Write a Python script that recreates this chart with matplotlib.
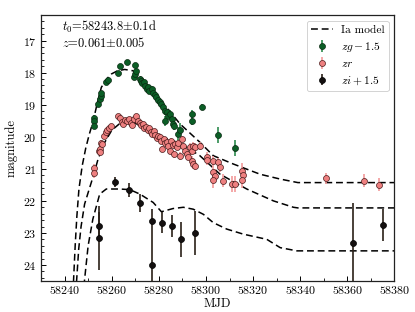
import matplotlib
matplotlib.use("Agg")
import matplotlib.pyplot as plt
import numpy as np

plt.rcParams['font.family'] = ['cmr10', 'DejaVu Serif']
plt.rcParams['mathtext.fontset'] = 'cm'
plt.rcParams['axes.unicode_minus'] = False
plt.rcParams['axes.formatter.use_mathtext'] = True

# ---- model curves (Ia model) ----
g_model_mjd = [58243.5, 58243.8, 58244.5, 58245.2, 58246.1, 58247.5, 58249.0, 58250.5, 58252.0,
               58253.8, 58255.6, 58257.8, 58259.9, 58262.5, 58265.5, 58269.0, 58273.3, 58279.0,
               58284.0, 58289.0, 58297.4, 58303.1, 58311.6, 58323.0, 58331.5, 58339.0, 58380.0]
g_model_mag = [25.2, 24.5, 23.4, 22.5, 21.63, 20.9, 20.35, 19.92, 19.55,
               18.98, 18.46, 18.2, 18.04, 17.94, 17.9, 17.94, 18.2, 18.75,
               19.15, 19.6, 20.17, 20.59, 20.85, 21.17, 21.32, 21.43, 21.43]

r_model_mjd = [58244.8, 58245.1, 58246.0, 58247.0, 58248.5, 58250.6, 58252.3, 58254.2, 58257.0,
               58260.0, 58264.0, 58266.5, 58270.0, 58276.0, 58283.0, 58289.0, 58297.4, 58306.0,
               58317.3, 58328.6, 58337.1, 58339.0, 58380.0]
r_model_mag = [25.2, 24.5, 23.5, 22.8, 22.1, 21.6, 21.2, 20.7, 20.18,
               19.8, 19.55, 19.5, 19.57, 19.85, 20.05, 20.2, 20.59, 21.17,
               21.63, 22.0, 22.2, 22.22, 22.22]

i_model_mjd = [58247.8, 58248.5, 58250.0, 58252.0, 58254.9, 58257.7, 58263.4, 58267.7, 58272.0,
               58277.6, 58281.1, 58286.0, 58290.4, 58294.6, 58298.9, 58303.1, 58308.8, 58315.9,
               58325.8, 58331.5, 58338.6, 58380.0]
i_model_mag = [25.0, 24.45, 23.4, 22.57, 21.79, 21.63, 21.63, 21.65, 21.79,
               22.05, 22.34, 22.24, 22.2, 22.26, 22.42, 22.68, 22.88, 23.04,
               23.2, 23.46, 23.56, 23.56]

# ---- zg - 1.5 ----
g_mjd = [58252.3, 58252.3, 58252.3, 58254.2, 58254.9, 58255.3, 58255.6, 58257.7, 58258.4,
         58262.5, 58263.4, 58266.3, 58269.7, 58269.4, 58270.0, 58270.5,
         58271.9, 58272.5, 58273.0, 58273.6, 58274.2, 58274.8, 58275.4, 58276.0, 58276.9,
         58277.5, 58278.2, 58279.0, 58279.7, 58280.4, 58281.1, 58281.8, 58282.6, 58283.3,
         58284.0, 58284.7, 58285.4, 58286.0, 58286.4, 58282.6, 58288.0, 58289.0,
         58294.2, 58294.2, 58298.2, 58305.2, 58312.3]
g_mag = [19.40, 19.52, 19.65, 18.98, 18.82, 18.72, 18.64, 18.30, 18.23,
         18.02, 17.78, 17.68, 17.76, 18.12, 18.04, 17.95,
         18.20, 18.25, 18.32, 18.30, 18.42, 18.50, 18.45, 18.56, 18.52,
         18.62, 18.70, 18.77, 18.85, 18.90, 18.98, 19.08, 19.20, 19.24,
         19.34, 19.30, 19.45, 19.60, 19.65, 19.50, 19.90, 19.78,
         19.29, 19.50, 19.08, 19.95, 20.35]
g_err = [0.08, 0.08, 0.08, 0.08, 0.08, 0.07, 0.07, 0.06, 0.06,
         0.06, 0.05, 0.05, 0.05, 0.06, 0.06, 0.05,
         0.07, 0.07, 0.08, 0.08, 0.08, 0.08, 0.08, 0.08, 0.09,
         0.09, 0.1, 0.1, 0.1, 0.1, 0.1, 0.12, 0.12, 0.12,
         0.12, 0.13, 0.13, 0.14, 0.15, 0.15, 0.2, 0.2,
         0.12, 0.12, 0.1, 0.25, 0.25]

# ---- zr ----
r_mjd = [58252.3, 58252.3, 58254.5, 58254.9, 58255.1, 58255.6, 58256.0, 58256.8, 58257.5,
         58258.0, 58258.8, 58259.6, 58262.5, 58263.5, 58264.2, 58265.0, 58265.5, 58266.6,
         58267.5, 58268.2, 58268.8, 58269.6, 58270.5, 58271.2, 58271.8, 58272.5, 58273.2,
         58273.8, 58274.5, 58275.2, 58275.8, 58276.5, 58277.2, 58277.8, 58278.5, 58279.2,
         58279.8, 58280.5, 58281.0, 58281.5, 58282.2, 58282.8, 58283.5, 58284.0, 58284.6,
         58285.2, 58285.8, 58286.5, 58287.0, 58287.6, 58288.2, 58288.8, 58289.7, 58290.4,
         58291.0, 58291.8, 58292.5, 58293.2, 58294.0, 58294.6, 58295.3, 58294.0, 58294.6,
         58295.3, 58297.4, 58300.3, 58300.5, 58303.1, 58305.3, 58306.0, 58303.1, 58303.8,
         58303.1, 58307.4, 58310.9, 58312.3, 58315.2, 58315.9, 58315.2, 58351.0, 58367.0,
         58373.3]
r_mag = [20.96, 21.14, 20.44, 20.38, 20.47, 20.18, 20.23, 19.97, 19.86,
         19.78, 19.72, 19.66, 19.36, 19.40, 19.55, 19.60, 19.48, 19.52,
         19.46, 19.56, 19.62, 19.44, 19.34, 19.50, 19.58, 19.64, 19.60,
         19.72, 19.70, 19.78, 19.74, 19.85, 19.90, 19.82, 19.95, 20.05,
         19.98, 20.02, 20.12, 20.38, 20.08, 20.20, 20.15, 20.30, 20.45,
         20.12, 20.25, 20.55, 20.22, 20.32, 20.18, 20.60, 20.07, 20.28,
         20.44, 20.54, 20.62, 20.33, 20.44, 20.28, 20.33, 20.75, 20.85,
         20.90, 20.28, 20.64, 20.73, 20.75, 20.80, 20.94, 21.11, 21.22,
         21.35, 21.37, 21.46, 21.46, 21.06, 21.20, 21.34, 21.30, 21.37,
         21.50]
r_err = [0.12, 0.15, 0.1, 0.1, 0.1, 0.08, 0.08, 0.08, 0.08,
         0.07, 0.07, 0.07, 0.06, 0.06, 0.06, 0.06, 0.06, 0.06,
         0.06, 0.06, 0.06, 0.06, 0.06, 0.06, 0.06, 0.06, 0.06,
         0.06, 0.07, 0.07, 0.07, 0.07, 0.07, 0.07, 0.08, 0.08,
         0.08, 0.08, 0.08, 0.1, 0.08, 0.08, 0.08, 0.1, 0.1,
         0.08, 0.1, 0.12, 0.1, 0.1, 0.1, 0.12, 0.1, 0.1,
         0.12, 0.12, 0.12, 0.12, 0.12, 0.12, 0.12, 0.15, 0.15,
         0.15, 0.12, 0.15, 0.15, 0.15, 0.15, 0.15, 0.2, 0.2,
         0.25, 0.2, 0.25, 0.25, 0.25, 0.2, 0.25, 0.18, 0.2,
         0.2]

# ---- zi + 1.5 ----
i_mjd = [58254.6, 58254.6, 58261.3, 58267.2, 58272.2, 58277.3, 58277.3, 58281.4, 58285.6,
         58289.4, 58295.3, 58362.2, 58375.2]
i_mag = [22.78, 23.17, 21.42, 21.67, 22.07, 22.63, 24.00, 22.68, 22.78,
         23.20, 23.00, 23.32, 22.74]
i_err = [0.42, 1.00, 0.15, 0.22, 0.27, 0.38, 1.00, 0.32, 0.35,
         0.55, 0.68, 1.25, 0.50]

fig = plt.figure(figsize=(4.15, 3.12), dpi=100)
ax = fig.add_axes([0.0988, 0.0994, 0.8518, 0.8526])

dash = (0, (4.5, 2.5))
ax.plot(g_model_mjd, g_model_mag, color='k', lw=1.1, ls=dash, zorder=1, label='Ia model')
ax.plot(r_model_mjd, r_model_mag, color='k', lw=1.1, ls=dash, zorder=1)
ax.plot(i_model_mjd, i_model_mag, color='k', lw=1.1, ls=dash, zorder=1)

ax.errorbar(g_mjd, g_mag, yerr=g_err, fmt='o', ms=4.3, mfc='#0b5e26', mec='#0a2a12', mew=0.5,
            ecolor='#2e8b4e', elinewidth=1.2, capsize=0, zorder=3, label=r'$zg-1.5$')
ax.errorbar(r_mjd, r_mag, yerr=r_err, fmt='o', ms=4.3, mfc='#ee8080', mec='#4a1a1a', mew=0.5,
            ecolor='#f29a9a', elinewidth=1.2, capsize=0, zorder=2, label=r'$zr$')
ax.errorbar(i_mjd, i_mag, yerr=i_err, fmt='o', ms=4.3, mfc='#141010', mec='#000000', mew=0.5,
            ecolor='#2a2018', elinewidth=1.2, capsize=0, zorder=3, label=r'$zi+1.5$')

ax.set_xlim(58230, 58380)
ax.set_ylim(24.5, 16.2)
ax.set_xticks([58240, 58260, 58280, 58300, 58320, 58340, 58360, 58380])
ax.set_xticks(np.arange(58230, 58381, 10), minor=True)
ax.set_yticks([17, 18, 19, 20, 21, 22, 23, 24])
ax.set_yticks(np.arange(16.2, 24.51, 0.2), minor=True)
ax.tick_params(which='both', direction='in', labelsize=8.6)
ax.tick_params(axis='x', which='both', pad=2.5)
ax.tick_params(axis='y', which='both', pad=3)
ax.tick_params(which='major', length=3.5, width=0.7)
ax.tick_params(which='minor', length=2, width=0.6)
for s in ax.spines.values():
    s.set_linewidth(0.9)
    s.set_color('#222222')

ax.set_xlabel('MJD', fontsize=9, labelpad=1)
ax.set_ylabel('magnitude', fontsize=9, labelpad=4)

ax.text(0.06, 0.955, r'$t_0$=58243.8$\pm$0.1d', transform=ax.transAxes, fontsize=9,
        va='center', ha='left')
ax.text(0.06, 0.893, r'$z$=0.061$\pm$0.005', transform=ax.transAxes, fontsize=9,
        va='center', ha='left')

leg = ax.legend(loc='upper right', fontsize=8.3, frameon=True, fancybox=True,
                edgecolor='#cccccc', framealpha=1, borderaxespad=0.5, handlelength=1.9,
                labelspacing=0.45, borderpad=0.35, handletextpad=0.7)
leg.get_frame().set_linewidth(0.6)

fig.savefig('out.png', dpi=100)
